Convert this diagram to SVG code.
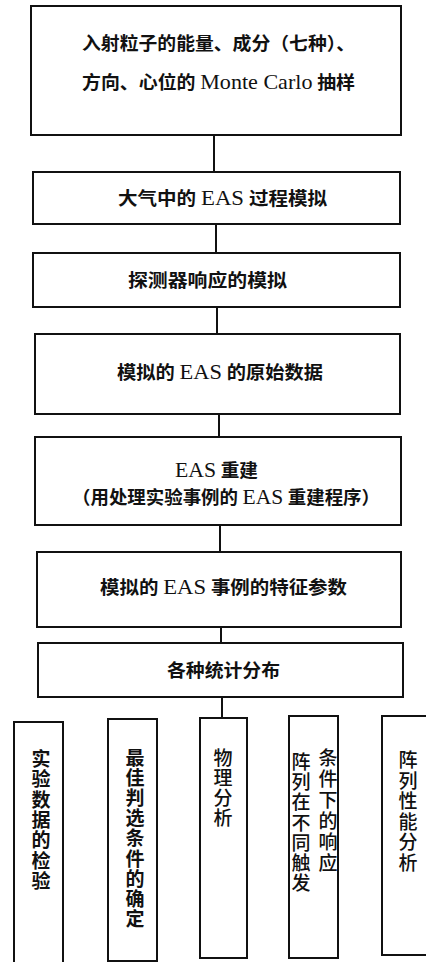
<svg xmlns="http://www.w3.org/2000/svg" width="426" height="962" viewBox="0 0 426 962">
<style>
.box{fill:#fff;stroke:#111;stroke-width:2}
.conn line{stroke:#111;stroke-width:2}
text{font-family:"Liberation Serif","Noto Sans CJK SC",serif;font-size:18px;fill:#111;font-weight:bold}
.lat{font-weight:normal;font-size:21px}
.reg{font-weight:500}
.v{font-size:19px}
</style>
<rect width="426" height="962" fill="#fff"/>
<g class="conn" id="connectors">
<line x1="214" y1="135" x2="214" y2="172"/>
<line x1="216" y1="224" x2="216" y2="253"/>
<line x1="217" y1="307" x2="217" y2="334"/>
<line x1="219" y1="414" x2="219" y2="437"/>
<line x1="220" y1="525" x2="220" y2="552"/>
<line x1="221" y1="627" x2="221" y2="643"/>
<line x1="222" y1="697" x2="222" y2="718"/>
</g>
<g id="n1">
<rect class="box" x="31" y="6" width="370" height="129"/>
<text x="218.5" y="50" text-anchor="middle" textLength="273" lengthAdjust="spacingAndGlyphs">入射粒子的能量、成分（七种）、</text>
<text x="218.5" y="89" text-anchor="middle" textLength="273" lengthAdjust="spacingAndGlyphs">方向、心位的 <tspan class="lat">Monte Carlo</tspan> 抽样</text>
</g>
<g id="n2">
<rect class="box" x="33" y="172" width="367" height="52"/>
<text x="222.5" y="205" text-anchor="middle" textLength="209" lengthAdjust="spacingAndGlyphs">大气中的 <tspan class="lat">EAS</tspan> 过程模拟</text>
</g>
<g id="n3">
<rect class="box" x="33" y="253" width="367" height="54"/>
<text x="207.5" y="287" text-anchor="middle" textLength="159" lengthAdjust="spacingAndGlyphs">探测器响应的模拟</text>
</g>
<g id="n4">
<rect class="box" x="35" y="334" width="365" height="80"/>
<text x="220" y="379" text-anchor="middle" textLength="206" lengthAdjust="spacingAndGlyphs">模拟的 <tspan class="lat">EAS</tspan> 的原始数据</text>
</g>
<g id="n5">
<rect class="box" x="35" y="437" width="366" height="88"/>
<text x="216.5" y="477" text-anchor="middle" textLength="83" lengthAdjust="spacingAndGlyphs"><tspan class="lat">EAS</tspan> 重建</text>
<text x="226" y="504" text-anchor="middle" textLength="308" lengthAdjust="spacingAndGlyphs">（用处理实验事例的 <tspan class="lat">EAS</tspan> 重建程序）</text>
</g>
<g id="n6">
<rect class="box" x="37" y="552" width="364" height="75"/>
<text x="223.5" y="594" text-anchor="middle" textLength="247" lengthAdjust="spacingAndGlyphs">模拟的 <tspan class="lat">EAS</tspan> 事例的特征参数</text>
</g>
<g id="n7">
<rect class="box" x="38" y="643" width="365" height="54"/>
<text x="223.5" y="677" text-anchor="middle" textLength="113" lengthAdjust="spacingAndGlyphs">各种统计分布</text>
</g>
<g id="nA">
<rect class="box" x="14" y="722" width="49" height="250"/>
<text class="v" text-anchor="middle"><tspan x="41" y="766">实</tspan><tspan x="41" y="786.3">验</tspan><tspan x="41" y="806.6">数</tspan><tspan x="41" y="826.9">据</tspan><tspan x="41" y="847.2">的</tspan><tspan x="41" y="867.5">检</tspan><tspan x="41" y="887.8">验</tspan></text>
</g>
<g id="nB">
<rect class="box" x="108" y="719" width="49" height="242"/>
<text class="v" text-anchor="middle"><tspan x="135" y="765">最</tspan><tspan x="135" y="785.1">佳</tspan><tspan x="135" y="805.2">判</tspan><tspan x="135" y="825.3">选</tspan><tspan x="135" y="845.4">条</tspan><tspan x="135" y="865.5">件</tspan><tspan x="135" y="885.6">的</tspan><tspan x="135" y="905.7">确</tspan><tspan x="135" y="925.8">定</tspan></text>
</g>
<g id="nC">
<rect class="box" x="200" y="718" width="47" height="240"/>
<text class="reg v" text-anchor="middle"><tspan x="223" y="765">物</tspan><tspan x="223" y="785">理</tspan><tspan x="223" y="805">分</tspan><tspan x="223" y="825">析</tspan></text>
</g>
<g id="nD">
<rect class="box" x="289" y="716" width="49" height="242"/>
<text class="reg v" text-anchor="middle"><tspan x="301" y="769">阵</tspan><tspan x="301" y="789.2">列</tspan><tspan x="301" y="809.4">在</tspan><tspan x="301" y="829.6">不</tspan><tspan x="301" y="849.8">同</tspan><tspan x="301" y="870">触</tspan><tspan x="301" y="890.2">发</tspan></text>
<text class="reg v" text-anchor="middle"><tspan x="328" y="765">条</tspan><tspan x="328" y="786">件</tspan><tspan x="328" y="807">下</tspan><tspan x="328" y="828">的</tspan><tspan x="328" y="849">响</tspan><tspan x="328" y="870">应</tspan></text>
</g>
<g id="nE">
<rect class="box" x="382" y="716" width="52" height="239"/>
<text class="reg v" text-anchor="middle"><tspan x="408" y="767">阵</tspan><tspan x="408" y="787.6">列</tspan><tspan x="408" y="808.2">性</tspan><tspan x="408" y="828.8">能</tspan><tspan x="408" y="849.4">分</tspan><tspan x="408" y="870">析</tspan></text>
</g>
</svg>
